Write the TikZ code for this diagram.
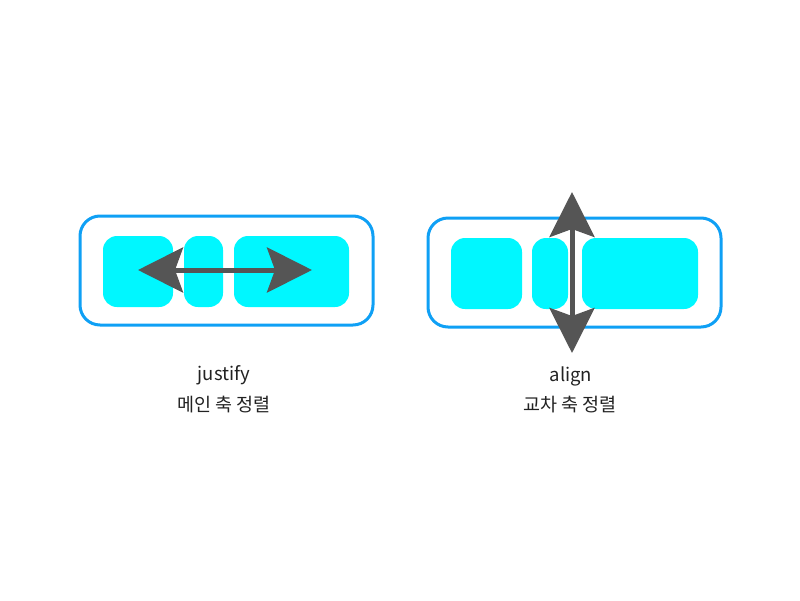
\documentclass[tikz,border=0pt]{standalone}
\usepackage{fontspec}
\setmainfont{Noto Sans CJK KR}
\usepackage{tikz}
\usetikzlibrary{arrows.meta,positioning}
\definecolor{frame}{HTML}{0FA0F5}
\definecolor{flexcyan}{HTML}{00F7FF}
\definecolor{ink}{HTML}{555555}
\definecolor{txt}{HTML}{222222}
\tikzset{
  container/.style={draw=frame,line width=3pt,rounded corners=20pt,minimum width=293pt,
    minimum height=109pt,inner sep=0pt},
  flexitem/.style={fill=flexcyan,rounded corners=14pt,minimum height=71pt,inner sep=0pt},
  arr/.style={{Stealth[length=45pt,width=45pt,inset=8pt]}-{Stealth[length=45pt,width=45pt,inset=8pt]},
    line width=5pt,draw=ink},
  caption/.style={anchor=base,font=\fontsize{18.5}{22}\selectfont,text=txt,inner sep=0pt}
}

\begin{document}
\begin{tikzpicture}[x=1pt,y=-1pt]
 \useasboundingbox (0,0) rectangle (800,600);
 % justify
 \node[container] (jbox) at (226.5,270.5) {};
 \node[flexitem,minimum width=70pt] (ja) at (138,271.5) {};
 \node[flexitem,minimum width=39pt] (jb) at (203.5,271.5) {};
 \node[flexitem,minimum width=115pt] (jc) at (291.5,271.5) {};
 \coordinate (jl) at (138,270);
 \coordinate (jr) at (312,270);
 \draw[arr] (jl)--(jr);
 \node[caption] (jname) at (224,380) {justify};
 \node[caption] (jtext) at (224,411) {메인 축 정렬};
 % align
 \node[container] (abox) at (574.5,272.5) {};
 \node[flexitem,minimum width=71pt] (aa) at (486.5,273.5) {};
 \node[flexitem,minimum width=36pt] (ab) at (550,273.5) {};
 \node[flexitem,minimum width=116pt] (ac) at (640,273.5) {};
 \coordinate (at) at (572,192);
 \coordinate (ab') at (572,353);
 \draw[arr] (at)--(ab');
 \node[caption] (aname) at (571,381) {align};
 \node[caption] (atext) at (570,411) {교차 축 정렬};
\end{tikzpicture}
\end{document}
